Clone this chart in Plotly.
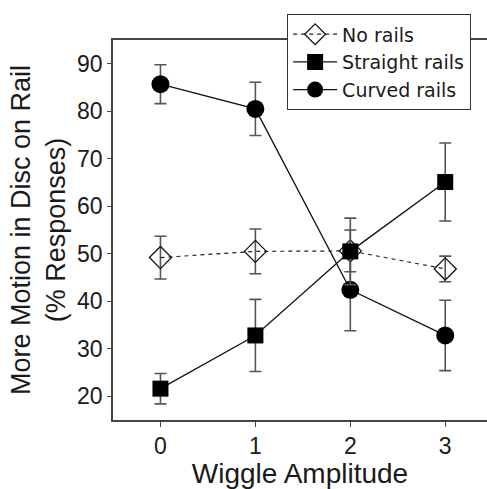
import plotly.graph_objects as go

x_vals = [0, 1, 2, 3]
no_rails = [49.2, 50.5, 50.6, 46.8]
no_rails_err = [4.5, 4.7, 4.4, 2.7]
straight = [21.6, 32.8, 50.5, 65.1]
straight_err = [3.2, 7.6, 7.0, 8.2]
curved = [85.7, 80.5, 42.4, 32.8]
curved_err = [4.1, 5.6, 8.6, 7.4]

x_tick_vals = [0, 1, 2, 3]
y_tick_vals = [20, 30, 40, 50, 60, 70, 80, 90]

FONT = "Liberation Sans, Arial, Helvetica, sans-serif"
LFONT = "DejaVu Sans, Liberation Sans, sans-serif"
ERR = "#555555"
TXT = "#1a1a1a"

def err(vals):
    return dict(type="data", array=vals, visible=True, color=ERR, thickness=1.6, width=6)

fig = go.Figure()
fig.add_trace(go.Scatter(
    x=x_vals, y=no_rails, error_y=err(no_rails_err), name="No rails", legendrank=1,
    mode="lines+markers",
    line=dict(color="#222222", width=1.2, dash="4px,4px"),
    marker=dict(symbol="diamond-open", size=17, color="#111111", line=dict(width=1.3)),
))
fig.add_trace(go.Scatter(
    x=x_vals, y=curved, error_y=err(curved_err), name="Curved rails", legendrank=3,
    mode="lines+markers",
    line=dict(color="#111111", width=1.3),
    marker=dict(symbol="circle", size=18, color="#000000"),
))
fig.add_trace(go.Scatter(
    x=x_vals, y=straight, error_y=err(straight_err), name="Straight rails", legendrank=2,
    mode="lines+markers",
    line=dict(color="#111111", width=1.3),
    marker=dict(symbol="square", size=16, color="#000000"),
))

fig.update_layout(
    width=487, height=489,
    margin=dict(l=113, r=0, t=40, b=69),
    paper_bgcolor="white", plot_bgcolor="white",
    font=dict(family=FONT, color=TXT),
    showlegend=True,
    legend=dict(
        x=0.465, y=1.068, xanchor="left", yanchor="top",
        bgcolor="white", bordercolor="#333333", borderwidth=1.2,
        font=dict(size=19, family=LFONT, color=TXT),
        tracegroupgap=0, itemwidth=44,
    ),
    xaxis=dict(
        range=[-0.5, 3.44], tickvals=x_tick_vals, ticktext=[str(v) for v in x_tick_vals],
        showgrid=False, zeroline=False, showline=True, linecolor="#444444", linewidth=1.5,
        mirror=True, ticks="outside", ticklen=5, tickcolor="#444444", tickwidth=1.2,
        tickfont=dict(size=23, family=FONT, color=TXT),
        title=dict(text="Wiggle Amplitude", font=dict(size=28, family=FONT, color=TXT), standoff=8),
    ),
    yaxis=dict(
        range=[15, 95], tickvals=y_tick_vals, ticktext=[str(v) for v in y_tick_vals],
        showgrid=False, zeroline=False, showline=True, linecolor="#444444", linewidth=1.5,
        ticks="outside", ticklen=4, tickcolor="#444444", tickwidth=1.2,
        tickfont=dict(size=23, family=FONT, color=TXT),
        title=dict(text="More Motion in Disc on Rail<br>(% Responses)", font=dict(size=27, family=FONT, color=TXT), standoff=4),
    ),
)

fig.write_html("out.html")
